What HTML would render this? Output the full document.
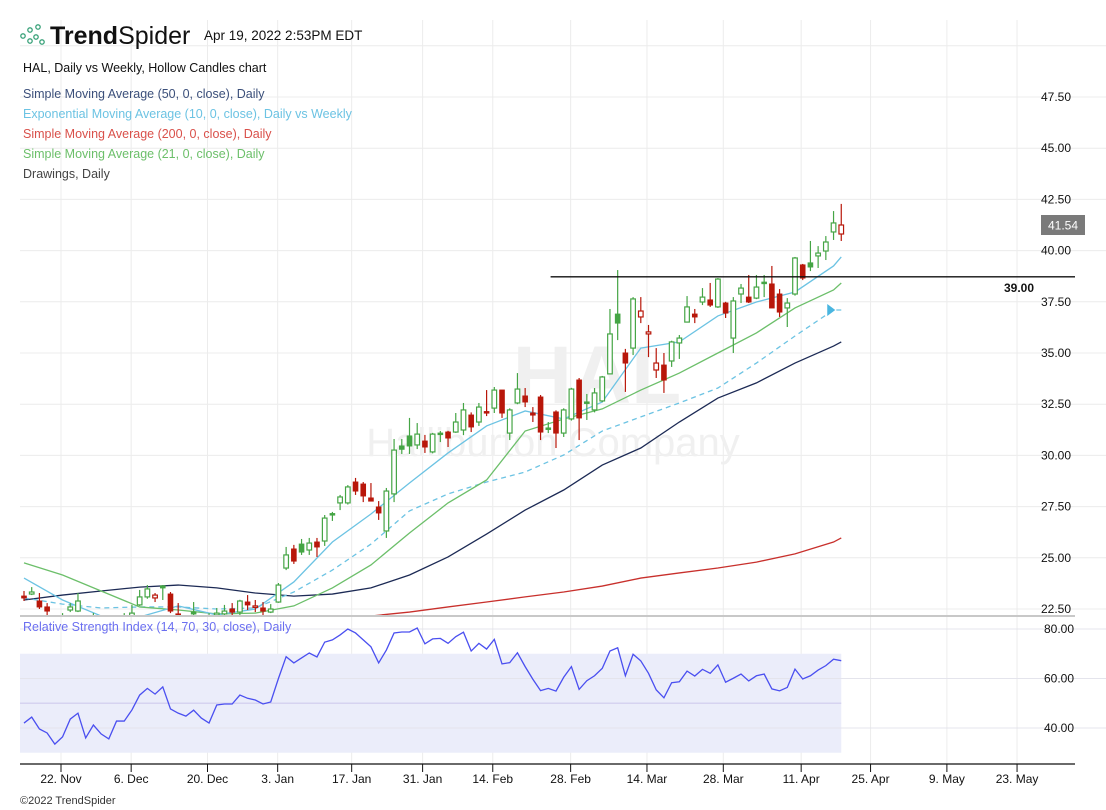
<!DOCTYPE html>
<html><head><meta charset="utf-8">
<style>
html,body{margin:0;padding:0;background:#fff;}
body{width:1106px;height:810px;overflow:hidden;font-family:"Liberation Sans",sans-serif;}
svg{display:block;}
text{font-family:"Liberation Sans",sans-serif;}
</style></head>
<body>
<svg id="chart" width="1106" height="810" viewBox="0 0 1106 810" xmlns="http://www.w3.org/2000/svg">
  <defs>
    <clipPath id="mainClip"><rect x="20" y="0" width="1055" height="616"/></clipPath>
  </defs>
  <g id="grid"></g>
  <g>
    <text x="597" y="403" text-anchor="middle" font-size="82" font-weight="bold" fill="#f0f0f0">HAL</text>
    <text x="553" y="456" text-anchor="middle" font-size="40" fill="#f0f0f0">Halliburton Company</text>
  </g>
  <g>
    <g fill="none" stroke="#3aa27a" stroke-width="1.3">
      <circle cx="23" cy="36" r="2.2"/><circle cx="30" cy="30" r="2.2"/><circle cx="38" cy="27" r="2.2"/>
      <circle cx="30" cy="41" r="2.2"/><circle cx="36" cy="37" r="2.2"/><circle cx="42" cy="42" r="2.2"/>
    </g>
    <text x="50" y="44" font-size="25" fill="#111"><tspan font-weight="bold">Trend</tspan><tspan>Spider</tspan></text>
    <text x="204" y="40" font-size="13.5" fill="#111">Apr 19, 2022 2:53PM EDT</text>
  </g>
  <g font-size="12.5">
    <text x="23" y="72" fill="#111">HAL, Daily vs Weekly, Hollow Candles chart</text>
    <text x="23" y="98" fill="#3b4f7a">Simple Moving Average (50, 0, close), Daily</text>
    <text x="23" y="118" fill="#6cc3e3">Exponential Moving Average (10, 0, close), Daily vs Weekly</text>
    <text x="23" y="138" fill="#d9504a">Simple Moving Average (200, 0, close), Daily</text>
    <text x="23" y="158" fill="#6cbf6a">Simple Moving Average (21, 0, close), Daily</text>
    <text x="23" y="178" fill="#444">Drawings, Daily</text>
  </g>
  <g id="rsiPanel"></g>
  <g id="mainPlot" clip-path="url(#mainClip)"></g>
  <g id="axes"></g>
  <text x="20" y="804" font-size="11" fill="#333">©2022 TrendSpider</text>
</svg>
<script>
const opens=[23.13,23.23,22.89,22.60,22.00,21.90,22.45,22.40,22.10,21.90,21.95,21.85,21.70,21.90,22.11,22.70,23.09,23.04,23.63,23.23,22.26,22.00,22.35,22.10,22.00,22.21,22.26,22.50,22.35,22.84,22.62,22.55,22.35,22.84,24.50,25.43,25.67,25.38,25.77,25.82,27.16,27.68,27.68,28.70,28.60,27.92,27.48,26.31,28.12,30.46,30.95,30.51,30.70,30.17,31.09,31.14,31.14,31.24,31.97,31.63,32.14,32.31,33.19,31.09,32.56,32.90,32.07,32.85,31.34,32.12,31.09,31.78,33.68,32.61,32.22,32.66,33.98,36.90,35.00,35.24,36.76,35.93,34.17,34.41,34.61,35.49,36.51,36.90,37.49,37.59,37.25,37.44,35.73,37.88,37.73,37.68,38.46,38.37,37.88,37.20,37.88,39.30,39.40,39.74,39.98,40.91,40.81];
const highs=[23.38,23.57,23.28,22.79,22.10,22.30,22.79,23.28,22.20,22.30,22.10,22.05,22.00,22.30,22.70,23.43,23.67,23.28,23.67,23.33,22.79,22.20,22.84,22.20,22.30,22.55,22.70,22.79,22.95,23.18,22.94,22.84,22.74,23.77,25.53,25.63,25.92,25.97,25.97,27.09,27.24,28.07,28.55,28.90,28.70,28.65,27.77,28.41,30.80,30.80,31.83,31.58,31.00,31.10,31.19,31.20,32.07,32.56,32.10,32.56,33.19,33.34,33.20,32.30,34.02,33.29,32.36,32.95,31.63,32.20,32.30,33.30,33.78,33.00,33.29,33.88,37.15,39.05,35.20,37.73,37.73,36.37,35.24,35.00,35.60,35.88,37.78,37.15,38.17,38.42,38.66,37.50,37.73,38.37,38.81,38.81,38.81,39.25,38.12,37.68,39.69,39.35,40.47,40.22,40.71,41.93,42.28];
const lows=[22.89,23.18,22.50,22.16,21.60,21.70,22.35,22.35,21.70,21.70,21.70,21.60,21.50,21.70,21.90,22.65,23.00,22.84,22.94,22.30,21.90,21.70,22.10,21.80,21.80,22.00,22.10,22.10,22.20,22.45,22.35,22.20,22.30,22.80,24.40,24.70,25.14,25.14,25.04,25.58,26.80,27.33,27.60,28.07,27.72,27.77,26.85,25.97,27.72,30.07,30.07,30.31,30.12,30.10,30.65,30.41,31.10,30.99,31.14,31.44,31.92,32.07,31.83,30.75,32.50,32.36,31.63,30.75,31.09,30.36,30.90,31.70,30.75,31.73,32.10,32.60,33.98,35.63,33.10,34.90,36.46,34.80,33.78,33.05,34.32,34.71,36.51,36.46,37.34,37.25,37.20,36.71,35.00,37.44,37.44,37.63,37.73,37.20,36.76,36.27,37.80,38.56,39.00,39.15,39.54,40.52,40.47];
const closes=[23.04,23.33,22.60,22.40,21.80,22.10,22.60,22.89,21.90,22.00,21.85,21.75,21.90,22.05,22.30,23.09,23.48,23.18,23.53,22.40,22.11,21.90,22.26,21.95,22.10,22.30,22.40,22.35,22.89,22.70,22.65,22.40,22.50,23.67,25.14,24.84,25.28,25.72,25.53,26.94,27.14,27.97,28.46,28.26,28.02,27.77,27.19,28.26,30.26,30.30,30.46,31.04,30.41,31.04,31.07,30.85,31.63,32.22,31.39,32.36,32.12,33.19,32.07,32.22,33.24,32.61,31.97,31.14,31.32,31.09,32.22,33.24,31.83,32.58,33.05,33.83,35.93,36.46,34.51,37.64,37.05,36.03,34.51,33.68,35.54,35.73,37.25,36.76,37.73,37.34,38.61,36.95,37.54,38.17,37.49,38.22,38.44,37.20,37.00,37.44,39.64,38.66,39.20,39.88,40.42,41.35,41.25];
const maIdx=[0,5,10,15,20,25,30,35,40,45,50,55,60,65,70,75,80,85,90,95,100,105,106];
const sma50=[22.94,23.18,23.38,23.57,23.67,23.53,23.28,23.13,23.23,23.53,24.16,25.04,26.16,27.33,28.31,29.53,30.36,31.63,32.80,33.54,34.51,35.34,35.54];
const sma21=[24.75,24.16,23.38,22.60,22.45,22.26,22.30,22.65,23.53,24.65,26.21,27.68,28.80,31.19,31.78,32.27,33.19,34.02,35.00,35.98,37.20,38.08,38.42];
const ema10=[24.01,22.94,22.16,22.11,22.65,22.21,22.50,23.82,25.77,27.14,28.65,30.12,31.44,32.17,31.78,32.61,35.24,35.54,36.81,37.49,37.98,39.25,39.69];
const ema10Weekly=[23.04,22.74,22.55,22.60,22.60,22.50,22.55,23.33,24.40,25.67,27.29,28.12,28.70,29.19,30.02,31.19,31.88,32.56,33.29,34.51,35.83,37.10,37.10];
const sma200=[20.50,20.60,20.74,20.89,21.08,21.28,21.47,21.67,21.91,22.16,22.35,22.60,22.84,23.09,23.33,23.62,24.01,24.26,24.50,24.79,25.19,25.77,25.97];
const rsi=[42,44.4,39.6,38,33.5,36.4,43.6,46,36,41.2,37.6,35.6,42.8,42.8,47.3,53.3,56,53.7,56.6,47.7,46,44.8,47.2,44,42,49.3,49.7,49.7,53.3,52,51.3,49.7,50.5,60,68.8,66.3,68.3,70.3,68.7,74.7,75.6,77.6,80,78.4,75.6,72.8,66.3,71.5,78.4,78.8,78.8,80.4,74,76,76.2,74.2,76.9,78.7,71.1,74.2,71.9,75.8,65.9,66.4,70.4,64.8,59.7,55.1,56,54.9,60.5,64.8,55.6,59.1,61.1,64.1,71.1,72.4,61.1,69.8,67.1,62.1,55.4,52.2,58.3,58.7,63,61,63.7,62.1,65.5,58.5,60.1,61.8,59,61.1,61.8,55.8,55,56.4,63.8,59.8,61.1,63.4,65.2,67.8,67.2];
const priceTicks=[22.5,25,27.5,30,32.5,35,37.5,40,42.5,45,47.5];
const priceTickLabels=["22.50","25.00","27.50","30.00","32.50","35.00","37.50","40.00","42.50","45.00","47.50"];
const rsiTicks=[80,60,40];
const rsiTickLabels=["80.00","60.00","40.00"];
const dateTickIdx=[4.8,13.9,23.8,32.9,42.5,51.7,60.8,70.9,80.8,90.7,100.8,109.8,119.7,128.8];
const dateTickLabels=["22. Nov","6. Dec","20. Dec","3. Jan","17. Jan","31. Jan","14. Feb","28. Feb","14. Mar","28. Mar","11. Apr","25. Apr","9. May","23. May"];
const supportLevel=38.72;
const supportLabel="39.00";
const supportStartIdx=68.3;
const lastPriceLabel="41.54";

const NS="http://www.w3.org/2000/svg";
const xI=i=>24+i*7.71;
const yP=p=>97+(47.5-p)*20.48;
const yR=v=>629+(80-v)*2.475;
function mk(tag,attrs,parent){const e=document.createElementNS(NS,tag);for(const k in attrs)e.setAttribute(k,attrs[k]);parent.appendChild(e);return e;}

const grid=document.getElementById('grid');
const main=document.getElementById('mainPlot');
const rsiG=document.getElementById('rsiPanel');
const axes=document.getElementById('axes');

dateTickIdx.forEach((d,k)=>{
  const l=mk('line',{x1:xI(d),x2:xI(d),y1:20,y2:764,stroke:'#ececec','stroke-width':1},grid);
  
  
});
[50].concat(priceTicks).forEach(p=>{
  const l=mk('line',{x1:20,x2:1106,y1:yP(p),y2:yP(p),stroke:'#ececec','stroke-width':1},grid);
  
  
});

priceTicks.forEach((p,k)=>{
  const t=mk('text',{x:1041,y:yP(p)+4,'font-size':12,fill:'#111'},axes);
  t.textContent=priceTickLabels[k];
  
  
});

const band=mk('rect',{x:20,y:yR(70),width:xI(rsi.length-1)-20,height:yR(30)-yR(70),fill:'#ebedfa'},rsiG);


rsiTicks.forEach((v,k)=>{
  const l=mk('line',{x1:20,x2:1106,y1:yR(v),y2:yR(v),stroke:'#e4e4ec','stroke-width':1},rsiG);
  
  
  const t=mk('text',{x:1044,y:yR(v)+4,'font-size':12,fill:'#111'},rsiG);
  t.textContent=rsiTickLabels[k];
  
  
});
const mid=mk('line',{x1:20,x2:xI(rsi.length-1),y1:yR(50),y2:yR(50),stroke:'#d6d3f0','stroke-width':1.5},rsiG);


const rsiLine=mk('polyline',{points:rsi.map((v,i)=>xI(i)+','+yR(v)).join(' '),fill:'none',stroke:'#4a4ff0','stroke-width':1.3},rsiG);


const rsiTitle=mk('text',{x:23,y:631,'font-size':12.5,fill:'#6b6ff0'},rsiG);
rsiTitle.textContent='Relative Strength Index (14, 70, 30, close), Daily';



function maLine(vals,color,name,dash){
  const a={points:vals.map((v,k)=>xI(maIdx[k])+','+yP(v)).join(' '),fill:'none',stroke:color,'stroke-width':1.3};
  if(dash)a['stroke-dasharray']=dash;
  const pl=mk('polyline',a,main);
  
  
}
maLine(sma200,'#c8302c','sma200-line');
maLine(sma50,'#1c2a55','sma50-line');
maLine(ema10Weekly,'#6cc3e3','ema10-weekly-line','5,4');
maLine(sma21,'#6cbf6a','sma21-line');
maLine(ema10,'#6cc3e3','ema10-line');

for(let i=0;i<closes.length;i++){
  const o=opens[i],c=closes[i],h=highs[i],l=lows[i];
  const prev=i>0?closes[i-1]:o;
  const col=c>=prev?'#45a545':'#b8170a';
  const hollow=c>o;
  const x=xI(i);
  const top=yP(Math.max(o,c)),bot=yP(Math.min(o,c));
  const g=mk('g',{},main);
  
  
  mk('line',{x1:x,x2:x,y1:yP(h),y2:top,stroke:col,'stroke-width':1.2},g);
  mk('line',{x1:x,x2:x,y1:bot,y2:yP(l),stroke:col,'stroke-width':1.2},g);
  const bh=Math.max(bot-top,1.5);
  if(hollow) mk('rect',{x:x-2.3,y:top,width:4.6,height:bh,fill:'#fff',stroke:col,'stroke-width':1.2},g);
  else mk('rect',{x:x-2.8,y:top-0.5,width:5.6,height:bh+1,fill:col},g);
}

const last=ema10Weekly.length-1;
const tri=mk('polygon',{points:(xI(maIdx[last])-14)+','+(yP(ema10Weekly[last])-6)+' '+(xI(maIdx[last])-6)+','+yP(ema10Weekly[last])+' '+(xI(maIdx[last])-14)+','+(yP(ema10Weekly[last])+6),fill:'#4ab6e0'},main);



const sl=mk('line',{x1:xI(supportStartIdx),x2:1075,y1:yP(supportLevel),y2:yP(supportLevel),stroke:'#111','stroke-width':1.3},axes);


const st=mk('text',{x:1004,y:yP(supportLevel)+15,'font-size':12,'font-weight':'bold',fill:'#111'},axes);
st.textContent=supportLabel;



const ly=yP(closes[closes.length-1]);
const lb=mk('rect',{x:1041,y:ly-10,width:44,height:20,fill:'#7a7a7a'},axes);


const lt=mk('text',{x:1063,y:ly+4.5,'font-size':12,'text-anchor':'middle',fill:'#fff'},axes);
lt.textContent=lastPriceLabel;



const sep=mk('line',{x1:20,x2:1075,y1:616,y2:616,stroke:'#c8c8c8','stroke-width':2},axes);


const xa=mk('line',{x1:20,x2:1075,y1:764,y2:764,stroke:'#111','stroke-width':1.3},axes);


dateTickIdx.forEach((d,k)=>{
  const tk=mk('line',{x1:xI(d),x2:xI(d),y1:764,y2:772,stroke:'#111','stroke-width':1},axes);
  
  
  const t=mk('text',{x:xI(d),y:783,'font-size':12,'text-anchor':'middle',fill:'#111'},axes);
  t.textContent=dateTickLabels[k];
  
  
});
</script>
</body></html>
